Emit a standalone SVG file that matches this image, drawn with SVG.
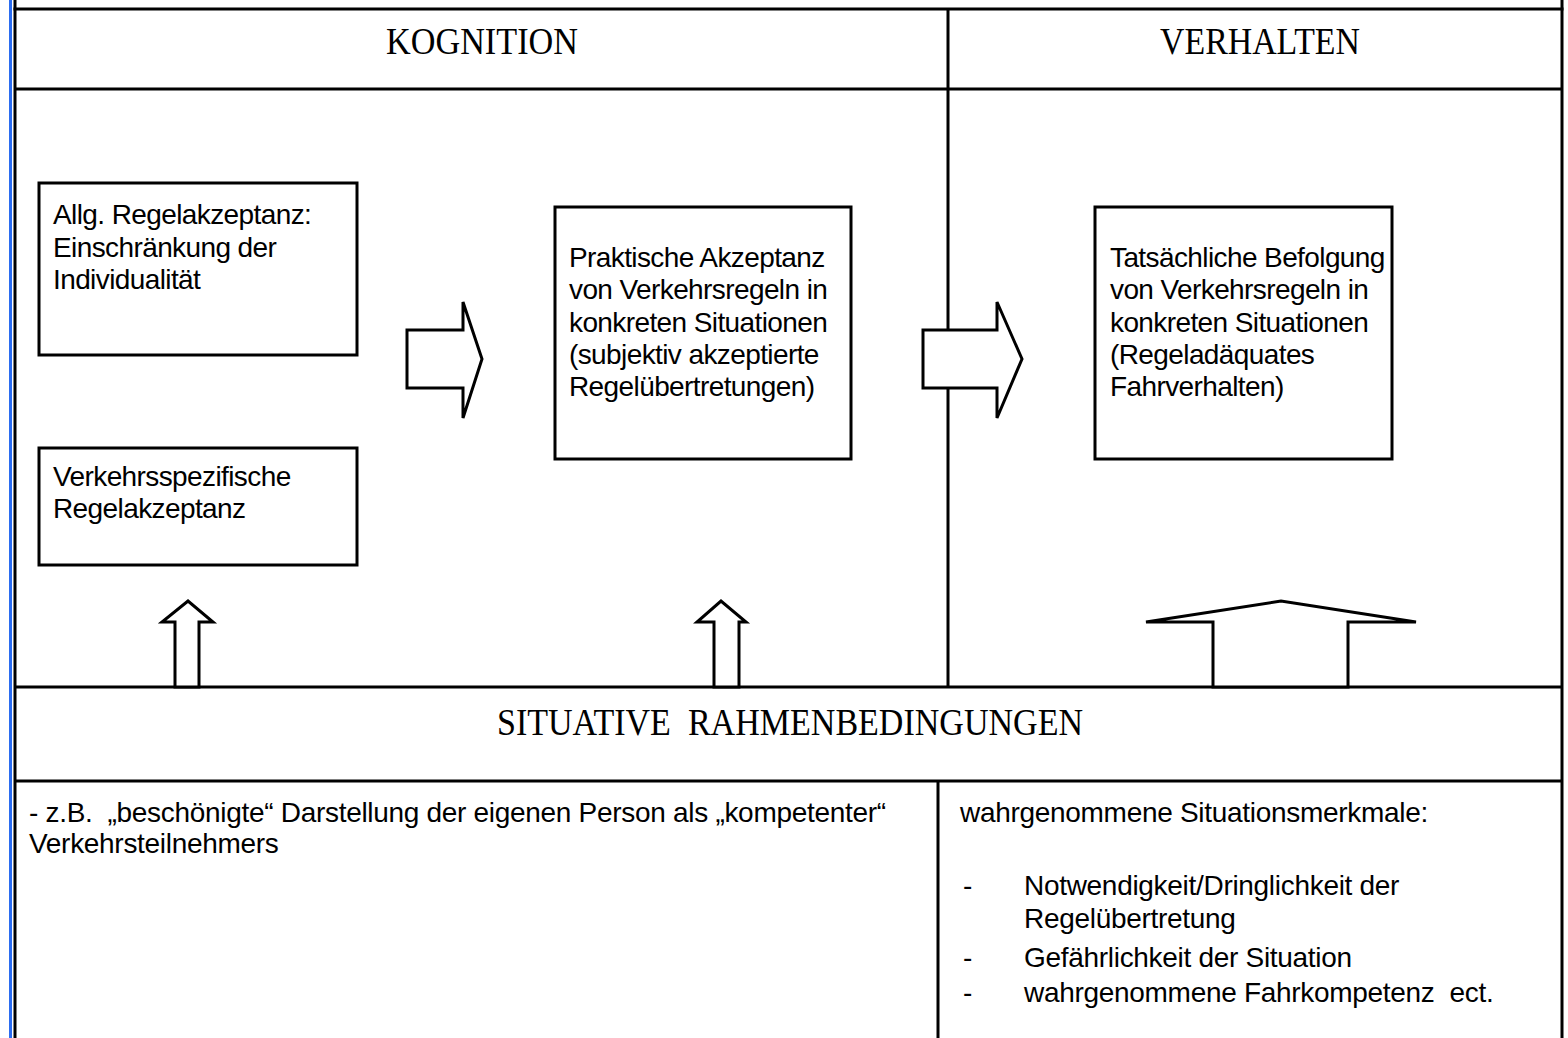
<svg xmlns="http://www.w3.org/2000/svg" width="1568" height="1038" viewBox="0 0 1568 1038">
<style>
.ln{stroke:#000;stroke-width:3;fill:none}
.bx{stroke:#000;stroke-width:3;fill:#fff}
.ar{stroke:#000;stroke-width:3;fill:#fff;stroke-linejoin:miter}
.hd{font-family:"Liberation Serif","Times New Roman",serif;font-size:38px;fill:#000;text-anchor:middle}
.tx{font-family:"Liberation Sans",Arial,sans-serif;font-size:28px;fill:#000;letter-spacing:-0.6px}
.sm{font-family:"Liberation Sans",Arial,sans-serif;font-size:28px;fill:#000;letter-spacing:-0.3px}
</style>
<rect x="0" y="0" width="1568" height="1038" fill="#fff"/>
<rect x="9" y="0" width="3" height="1038" fill="#2B6CF0"/>
<g id="frame">
<line class="ln" x1="15" y1="0" x2="15" y2="1038"/>
<line class="ln" x1="1562" y1="0" x2="1562" y2="1038"/>
<line class="ln" x1="13.5" y1="9" x2="1563.5" y2="9"/>
<line class="ln" x1="15" y1="89" x2="1562" y2="89"/>
<line class="ln" x1="948" y1="9" x2="948" y2="687"/>
<line class="ln" x1="15" y1="687" x2="1562" y2="687"/>
<line class="ln" x1="15" y1="781" x2="1562" y2="781"/>
<line class="ln" x1="938" y1="781" x2="938" y2="1038"/>
</g>
<g id="hdr-kognition"><text class="hd" x="482" y="54" textLength="192" lengthAdjust="spacingAndGlyphs">KOGNITION</text></g>
<g id="hdr-verhalten"><text class="hd" x="1260" y="54" textLength="200" lengthAdjust="spacingAndGlyphs">VERHALTEN</text></g>
<g id="hdr-situativ"><text class="hd" x="790" y="735" xml:space="preserve" textLength="586" lengthAdjust="spacingAndGlyphs">SITUATIVE  RAHMENBEDINGUNGEN</text></g>
<g id="connectors">
<polygon class="ar" points="407,330 463,330 463,302 482,359 463,418 463,388 407,388"/>
<polygon class="ar" points="923,330 997,330 997,302 1022,359 997,418 997,388 923,388"/>
<polygon class="ar" points="175,687 175,622 162,622 188,601 213,622 199,622 199,687"/>
<polygon class="ar" points="714,687 714,622 697,622 721,601 746,622 739,622 739,687"/>
<polygon class="ar" points="1213,687 1213,622 1146,622 1281,601 1416,622 1348,622 1348,687"/>
</g>
<g id="box-allg">
<rect class="bx" x="39" y="183" width="318" height="172"/>
<text class="tx" x="53" y="224">Allg. Regelakzeptanz:</text>
<text class="tx" x="53" y="257">Einschränkung der</text>
<text class="tx" x="53" y="289">Individualität</text>
</g>
<g id="box-verkehr">
<rect class="bx" x="39" y="448" width="318" height="117"/>
<text class="tx" x="53" y="486">Verkehrsspezifische</text>
<text class="tx" x="53" y="518">Regelakzeptanz</text>
</g>
<g id="box-praktisch">
<rect class="bx" x="555" y="207" width="296" height="252"/>
<text class="tx" x="569" y="267">Praktische Akzeptanz</text>
<text class="tx" x="569" y="299">von Verkehrsregeln in</text>
<text class="tx" x="569" y="332">konkreten Situationen</text>
<text class="tx" x="569" y="364">(subjektiv akzeptierte</text>
<text class="tx" x="569" y="396">Regelübertretungen)</text>
</g>
<g id="box-befolgung">
<rect class="bx" x="1095" y="207" width="297" height="252"/>
<text class="tx" x="1110" y="267">Tatsächliche Befolgung</text>
<text class="tx" x="1110" y="299">von Verkehrsregeln in</text>
<text class="tx" x="1110" y="332">konkreten Situationen</text>
<text class="tx" x="1110" y="364">(Regeladäquates</text>
<text class="tx" x="1110" y="396">Fahrverhalten)</text>
</g>
<g id="text-left">
<text class="sm" x="29" y="822" xml:space="preserve">- z.B.  „beschönigte“ Darstellung der eigenen Person als „kompetenter“</text>
<text class="sm" x="29" y="853">Verkehrsteilnehmers</text>
</g>
<g id="text-right">
<text class="sm" x="960" y="822">wahrgenommene Situationsmerkmale:</text>
<text class="sm" x="963" y="895">-</text>
<text class="sm" x="1024" y="895">Notwendigkeit/Dringlichkeit der</text>
<text class="sm" x="1024" y="928">Regelübertretung</text>
<text class="sm" x="963" y="967">-</text>
<text class="sm" x="1024" y="967">Gefährlichkeit der Situation</text>
<text class="sm" x="963" y="1002">-</text>
<text class="sm" x="1024" y="1002" xml:space="preserve">wahrgenommene Fahrkompetenz  ect.</text>
</g>
</svg>
